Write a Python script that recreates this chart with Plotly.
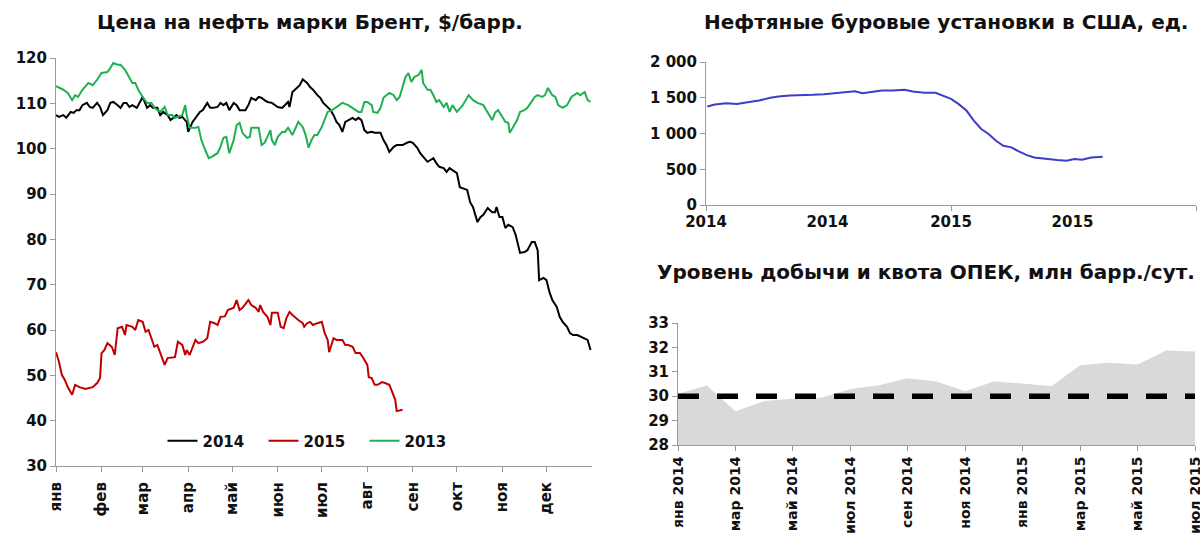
import plotly.graph_objects as go

# ---------------- Brent (day of year) ----------------
month_ticks = [0, 31, 59, 90, 120, 151, 181, 212, 243, 273, 304, 334]
month_labels = ["янв", "фев", "мар", "апр", "май", "июн", "июл", "авг", "сен", "окт", "ноя", "дек"]

days_2013 = [0, 5, 8, 11, 13, 15, 18, 22, 25, 28, 31, 35, 37, 39, 42, 44, 47, 49, 52, 54, 56, 59, 62, 65, 67, 71,
             74, 76, 79, 81, 83, 86, 88, 89, 91, 95, 97, 99, 101, 104, 106, 110, 112, 114, 116, 118, 121, 123, 125,
             127, 130, 132, 133, 136, 138, 140, 142, 144, 146, 147, 149, 151, 154, 156, 158, 161, 163, 165, 168,
             170, 172, 174, 176, 178, 181, 183, 185, 188, 191, 195, 199, 202, 206, 208, 209, 210, 212, 215, 216,
             219, 221, 223, 225, 227, 230, 232, 234, 236, 238, 240, 242, 244, 247, 249, 250, 253, 255, 257, 259,
             261, 264, 266, 268, 270, 273, 277, 281, 284, 287, 291, 294, 297, 299, 301, 304, 306, 308, 309, 311,
             314, 316, 319, 321, 324, 326, 328, 331, 333, 335, 338, 340, 342, 345, 348, 349, 351, 355, 357, 360,
             362, 364]
brent_2013 = [113.8, 113.0, 112.3, 110.7, 111.8, 111.4, 113.0, 114.5, 114.0, 115.2, 116.7, 116.9, 117.8, 118.9,
              118.5, 118.5, 117.4, 116.3, 114.5, 114.5, 113.0, 111.4, 110.1, 110.1, 109.0, 108.1, 109.2, 107.4,
              107.4, 106.8, 107.0, 107.4, 109.6, 107.4, 104.6, 104.6, 104.8, 101.9, 100.2, 97.9, 98.2, 99.0,
              100.4, 102.4, 102.6, 99.0, 101.9, 105.2, 105.7, 103.5, 102.4, 102.6, 104.6, 104.6, 104.6, 100.8,
              101.3, 102.6, 104.1, 101.9, 100.8, 102.6, 103.7, 103.7, 104.6, 103.0, 104.6, 105.9, 104.8, 103.0,
              100.2, 101.9, 103.0, 103.0, 104.8, 106.3, 108.1, 108.5, 109.2, 110.1, 109.6, 109.0, 108.1, 108.1,
              109.0, 110.3, 110.3, 109.6, 108.1, 107.9, 109.0, 111.2, 111.8, 112.3, 111.8, 110.7, 111.4, 113.6,
              115.8, 116.7, 114.7, 115.8, 116.3, 117.4, 114.5, 113.0, 113.0, 111.8, 110.3, 110.7, 109.2, 110.1,
              108.1, 109.6, 108.1, 109.6, 111.8, 110.7, 110.1, 109.6, 107.9, 106.3, 107.9, 108.5, 107.0, 105.9,
              105.7, 103.5, 104.6, 106.3, 108.1, 108.5, 109.0, 110.3, 111.4, 111.8, 111.4, 111.8, 113.4, 111.8,
              111.4, 109.6, 109.0, 109.6, 110.3, 111.4, 112.3, 111.8, 112.5, 110.7, 110.3]

days_2014 = [0, 2, 5, 7, 10, 12, 14, 16, 18, 21, 23, 25, 28, 30, 32, 35, 37, 39, 42, 44, 46, 48, 50, 52, 55, 57,
             59, 62, 64, 66, 69, 71, 73, 76, 78, 80, 82, 84, 86, 89, 90, 93, 96, 98, 100, 103, 105, 107, 110, 112,
             114, 116, 118, 121, 123, 125, 129, 131, 133, 136, 138, 140, 142, 144, 147, 149, 151, 154, 156, 158,
             159, 161, 164, 166, 168, 171, 173, 175, 178, 180, 182, 185, 187, 189, 191, 193, 195, 197, 199, 202,
             204, 206, 208, 210, 212, 215, 217, 221, 223, 225, 227, 230, 232, 236, 239, 241, 243, 246, 248, 250,
             253, 255, 257, 259, 261, 264, 266, 268, 270, 273, 275, 277, 280, 282, 284, 287, 289, 291, 294, 297,
             299, 300, 302, 304, 306, 308, 311, 313, 315, 316, 319, 321, 324, 326, 328, 329, 332, 334, 336, 338,
             341, 343, 345, 348, 350, 352, 355, 358, 362, 364]
brent_2014 = [107.4, 107.0, 107.4, 106.8, 108.1, 107.9, 108.5, 108.5, 109.6, 110.1, 109.2, 109.0, 110.1, 109.2,
              107.4, 108.5, 110.1, 110.3, 109.6, 109.0, 110.1, 110.1, 109.2, 109.6, 109.0, 110.1, 111.4, 109.0,
              109.6, 109.0, 109.0, 107.4, 108.1, 107.4, 106.3, 106.8, 107.4, 106.8, 107.0, 105.9, 103.7, 105.9,
              107.4, 108.1, 108.5, 110.1, 109.0, 109.0, 109.2, 110.1, 109.6, 110.1, 108.5, 110.1, 109.6, 108.5,
              108.5, 109.6, 111.2, 110.7, 111.4, 111.2, 110.7, 110.3, 110.1, 109.6, 109.2, 109.0, 109.6, 110.3,
              109.2, 112.5, 113.4, 114.0, 115.3, 114.5, 113.6, 113.0, 111.8, 111.2, 110.1, 109.2, 108.5, 107.4,
              105.9, 105.2, 103.7, 105.9, 106.3, 106.8, 106.3, 106.8, 106.3, 104.1, 103.5, 103.7, 103.5, 103.5,
              101.9, 100.8, 99.3, 100.4, 100.8, 100.8, 101.3, 101.5, 101.3, 100.2, 99.0, 98.2, 97.1, 97.5, 97.9,
              96.8, 96.0, 95.7, 94.9, 95.7, 95.3, 94.6, 91.5, 91.3, 90.9, 88.2, 87.1, 83.8, 84.9, 85.4, 86.9, 86.0,
              86.0, 87.1, 84.9, 84.9, 82.5, 83.2, 82.7, 81.0, 78.3, 77.0, 77.2, 77.6, 79.4, 79.4, 77.6, 71.0,
              71.5, 71.0, 68.4, 66.6, 65.1, 62.9, 61.8, 60.7, 59.3, 58.9, 58.9, 58.5, 57.8, 55.6]

days_2015 = [0, 2, 4, 6, 8, 11, 13, 16, 20, 23, 25, 28, 30, 31, 33, 35, 38, 40, 42, 45, 47, 48, 52, 54, 56, 59,
             61, 63, 65, 67, 69, 72, 74, 76, 79, 81, 83, 86, 88, 89, 91, 93, 95, 97, 100, 103, 105, 108, 110, 112,
             115, 117, 121, 123, 125, 127, 131, 133, 136, 138, 139, 141, 144, 146, 147, 151, 153, 155, 157, 159,
             161, 165, 168, 169, 171, 173, 175, 178, 181, 183, 185, 186, 189, 191, 195, 197, 199, 202, 204, 207,
             209, 212, 213, 215, 217, 219, 222, 224, 227, 229, 231, 232, 236]
brent_2015 = [55.1, 53.0, 50.1, 49.0, 47.4, 45.7, 47.9, 47.4, 47.0, 47.2, 47.4, 48.3, 49.4, 54.9, 55.6, 57.1,
              56.3, 54.5, 60.4, 60.7, 58.9, 61.1, 60.7, 60.0, 62.2, 61.8, 59.6, 60.0, 58.2, 56.3, 56.7, 54.0, 52.3,
              53.8, 54.0, 54.0, 57.4, 56.7, 54.5, 55.6, 54.5, 56.3, 57.8, 57.1, 57.4, 58.2, 61.8, 61.5, 61.1, 62.9,
              63.0, 64.4, 64.9, 66.6, 64.4, 64.9, 66.6, 65.5, 64.9, 64.0, 65.5, 64.0, 62.9, 61.1, 63.8, 63.8, 60.7,
              60.4, 62.7, 64.0, 63.3, 62.2, 61.5, 60.7, 61.5, 61.8, 61.1, 61.5, 61.8, 59.3, 57.8, 55.1, 58.2, 57.8,
              57.8, 56.7, 56.7, 56.3, 54.9, 54.9, 54.0, 52.3, 49.6, 49.4, 47.9, 47.9, 48.5, 48.3, 47.9, 46.3, 44.6,
              42.1, 42.4]

# ---------------- US oil rigs ----------------
rig_dates = ["2014-01-03", "2014-01-14", "2014-01-31", "2014-02-16", "2014-03-04", "2014-03-21", "2014-04-07",
             "2014-04-19", "2014-05-06", "2014-05-23", "2014-06-09", "2014-06-26", "2014-07-13", "2014-07-30",
             "2014-08-11", "2014-08-22", "2014-09-09", "2014-09-20", "2014-10-07", "2014-10-24", "2014-11-05",
             "2014-11-22", "2014-12-09", "2014-12-20", "2015-01-01", "2015-01-12", "2015-01-24", "2015-02-04",
             "2015-02-15", "2015-02-26", "2015-03-09", "2015-03-20", "2015-04-01", "2015-04-12", "2015-04-24",
             "2015-05-05", "2015-05-22", "2015-06-08", "2015-06-22", "2015-07-04", "2015-07-15", "2015-07-29",
             "2015-08-15"]
rig_counts = [1377, 1405, 1424, 1414, 1438, 1461, 1499, 1518, 1532, 1532, 1541, 1550, 1564, 1578, 1592, 1564,
              1588, 1602, 1602, 1611, 1588, 1569, 1569, 1532, 1485, 1414, 1321, 1180, 1063, 993, 899, 829, 806,
              749, 698, 665, 642, 628, 618, 642, 632, 665, 674]
rig_label_dates = ["2014-01-01", "2014-07-01", "2015-01-01", "2015-07-01"]
rig_label_text = ["2014", "2014", "2015", "2015"]
rig_tick_dates = ["2014-01-01", "2015-01-01", "2016-01-01"]
rig_yticks = [0, 500, 1000, 1500, 2000]
rig_yticktext = ["0", "500", "1 000", "1 500", "2 000"]

# ---------------- OPEC ----------------
opec_months = ["янв 2014", "фев 2014", "мар 2014", "апр 2014", "май 2014", "июн 2014", "июл 2014", "авг 2014",
               "сен 2014", "окт 2014", "ноя 2014", "дек 2014", "янв 2015", "фев 2015", "мар 2015", "апр 2015",
               "май 2015", "июн 2015", "июл 2015"]
opec_output = [30.1, 30.44, 29.38, 29.8, 29.9, 29.94, 30.3, 30.45, 30.74, 30.6, 30.2, 30.6, 30.52, 30.41,
               31.27, 31.37, 31.3, 31.87, 31.83]
opec_quota = [30, 30, 30, 30, 30, 30, 30, 30, 30, 30, 30, 30, 30, 30, 30, 30, 30, 30, 30]

FONT = "DejaVu Sans"
TXT = "#111111"
AX = "#9a9a9a"
W, H = 1200, 534


def px(x):
    return x / W


def py(y):
    return 1 - y / H


fig = go.Figure()

fig.add_trace(go.Scatter(x=days_2014, y=brent_2014, name="2014", mode="lines",
                         line=dict(color="#000000", width=2), xaxis="x", yaxis="y"))
fig.add_trace(go.Scatter(x=days_2015, y=brent_2015, name="2015", mode="lines",
                         line=dict(color="#c00000", width=2), xaxis="x", yaxis="y"))
fig.add_trace(go.Scatter(x=days_2013, y=brent_2013, name="2013", mode="lines",
                         line=dict(color="#1fb150", width=2), xaxis="x", yaxis="y"))

fig.add_trace(go.Scatter(x=rig_dates, y=rig_counts, mode="lines", showlegend=False,
                         line=dict(color="#3d3dc8", width=2), xaxis="x2", yaxis="y2"))
fig.add_trace(go.Scatter(x=[], y=[], mode="lines", showlegend=False, xaxis="x4", yaxis="y2"))

fig.add_trace(go.Scatter(x=opec_months, y=opec_output, mode="lines", fill="tozeroy", showlegend=False,
                         fillcolor="#d9d9d9", line=dict(color="#d9d9d9", width=0), xaxis="x3", yaxis="y3"))
fig.add_trace(go.Scatter(x=opec_months, y=opec_quota, mode="lines", showlegend=False,
                         line=dict(color="#000000", width=5.5, dash="21px,18px"), xaxis="x3", yaxis="y3"))

tickfont = dict(family=FONT, size=15, color=TXT, weight="bold")
smallfont = dict(family=FONT, size=14, color=TXT, weight="bold")
axcommon = dict(showgrid=False, zeroline=False, showline=True, linecolor=AX, linewidth=1, automargin=False,
                ticks="outside", tickcolor=AX, ticklen=5)

fig.update_layout(
    width=W, height=H, autosize=False,
    margin=dict(l=0, r=0, t=0, b=0, autoexpand=False),
    paper_bgcolor="white", plot_bgcolor="white",
    font=dict(family=FONT, color=TXT),
    xaxis=dict(domain=[px(56), px(592)], range=[0, 365], anchor="y", tickvals=month_ticks,
               ticktext=month_labels, tickangle=-90, tickfont=tickfont, ticklabelstandoff=4, **axcommon),
    yaxis=dict(domain=[py(466), py(58)], range=[30, 120], anchor="x", dtick=10, tickfont=tickfont,
               **axcommon),
    xaxis2=dict(domain=[px(706), px(1196)], range=["2014-01-01", "2016-01-01"], type="date", anchor="y2",
                tickvals=rig_tick_dates, showticklabels=False, **axcommon),
    xaxis4=dict(domain=[px(706), px(1196)], range=["2014-01-01", "2016-01-01"], type="date", anchor="y2",
                overlaying="x2", tickvals=rig_label_dates, ticktext=rig_label_text, showline=False,
                showgrid=False, zeroline=False, ticks="", ticklabelstandoff=6, tickfont=tickfont,
                automargin=False),
    yaxis2=dict(domain=[py(205), py(62)], range=[0, 2000], anchor="x2", tickvals=rig_yticks,
                ticktext=rig_yticktext, tickfont=tickfont, **axcommon),
    xaxis3=dict(domain=[px(678), px(1195)], range=[0, 18], type="category", anchor="y3",
                tickvals=opec_months[::2], tickangle=-90, tickfont=smallfont, **axcommon),
    yaxis3=dict(domain=[py(445), py(323)], range=[28, 33], anchor="x3", dtick=1, tickfont=tickfont,
                **axcommon),
    legend=dict(orientation="h", x=px(314), xanchor="center", y=py(441), yanchor="middle",
                font=dict(family=FONT, size=15, color=TXT, weight="bold"), bgcolor="rgba(0,0,0,0)",
                entrywidth=56, entrywidthmode="pixels", itemwidth=30, tracegroupgap=0),
)

titlefont = dict(family=FONT, size=20, color=TXT, weight="bold")
fig.add_annotation(text="Цена на нефть марки Брент, $/барр.", xref="paper", yref="paper",
                   x=px(310), y=py(22), xanchor="center", yanchor="middle", showarrow=False, font=titlefont)
fig.add_annotation(text="Нефтяные буровые установки в США, ед.", xref="paper", yref="paper",
                   x=px(946), y=py(22), xanchor="center", yanchor="middle", showarrow=False, font=titlefont)
fig.add_annotation(text="Уровень добычи и квота ОПЕК, млн барр./сут.", xref="paper", yref="paper",
                   x=px(926), y=py(272), xanchor="center", yanchor="middle", showarrow=False, font=titlefont)

fig.write_html("out.html", config={"displayModeBar": False},
               post_script="document.body.style.margin='0';")
